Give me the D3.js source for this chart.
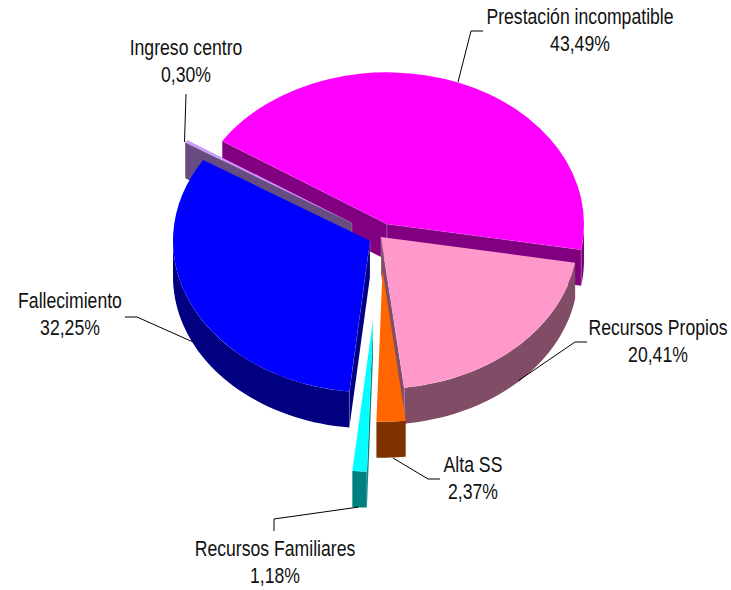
<!DOCTYPE html>
<html>
<head>
<meta charset="utf-8">
<script src="https://cdn.jsdelivr.net/npm/d3@7"></script>
<style>
  html, body { margin: 0; padding: 0; background: #fff; }
  text { font-family: 'Liberation Sans', Arial, sans-serif; font-size: 21.5px; fill: #111; }
</style>
</head>
<body>
<div id="chart"></div>
<script>
// data, clockwise from the magenta slice
const categories = ['Prestación incompatible', 'Recursos Propios', 'Alta SS', 'Recursos Familiares', 'Fallecimiento', 'Ingreso centro']
const values = [43.49, 20.41, 2.37, 1.18, 32.25, 0.30]
const colors = ['#ff00ff', '#ff99cc', '#ff6600', '#00ffff', '#0000ff', '#cc99ff']
const wallColors = ['#800080', '#804c66', '#803300', '#008080', '#000080', '#664c80']

const width = 731
const height = 590

// fake 3d settings
const tilt = 0.77
const depth = 36
const radius = 197
const startAngle = -56.8 * Math.PI / 180

// each slice is pulled out on its own: this is where its apex ends up
const apexX = [387, 381, 382.5, 373, 370, 352]
const apexY = [224, 237, 270, 320, 240.7, 223]

// back to front
const drawOrder = [0, 5, 1, 2, 3, 4]

// label centre, first baseline
const labelX = [580, 658, 473, 275, 70, 186]
const labelY = [24, 335, 472, 556, 308, 55]
const lineGap = 27.5
const narrow = 0.82 // no arial narrow here, so squeeze the text

// leader lines
const leaders = [
  [[458, 82], [471, 31], [483, 31]],
  [[518, 381], [575, 342], [587, 342]],
  [[393, 458], [428, 479], [440, 479]],
  [[359, 507], [274, 519], [274, 531]],
  [[193, 342], [137, 317], [125, 317]],
  [[184.5, 142], [186, 94]]
]

const svg = d3
  .select('#chart')
  .append('svg')
  .attr('width', width)
  .attr('height', height)
  .style('display', 'block')

const pie = d3
  .pie()
  .sort(null)
  .startAngle(startAngle)
  .endAngle(startAngle + 2 * Math.PI)

const slices = pie(values)
const line = d3.line()
const arc = d3.arc().innerRadius(0).outerRadius(radius)

function project(i, angle, z = 0) {
  return [
    apexX[i] + radius * Math.sin(angle),
    apexY[i] - radius * tilt * Math.cos(angle) + z
  ]
}

// side of the slice that runs from apex to rim at this angle
function drawRadialFace(g, i, angle) {
  const apex = [apexX[i], apexY[i]]
  const apexLow = [apex[0], apex[1] + depth]
  const rim = project(i, angle)
  const rimLow = [rim[0], rim[1] + depth]

  g.append('path')
    .attr('d', line([apex, rim, rimLow, apexLow]) + 'Z')
    .attr('fill', wallColors[i])

  // pale seam along the folds
  g.append('path')
    .attr('d', line([apexLow, apex, rim, rimLow]))
    .attr('fill', 'none')
    .attr('stroke', '#fff')
    .attr('stroke-opacity', 0.3)
    .attr('stroke-width', 0.7)
}

// only the part of the rim that faces the viewer
function rimFace(i, a0, a1) {
  const from = Math.max(a0, Math.PI / 2)
  const to = Math.min(a1, 1.5 * Math.PI)
  if (from >= to) return null
  const steps = d3.range(0, 41).map(k => from + (to - from) * k / 40)
  const upper = steps.map(a => project(i, a))
  const lower = steps.map(a => project(i, a, depth)).reverse()
  return line(upper.concat(lower)) + 'Z'
}

drawOrder.forEach(i => {
  const s = slices[i]
  const g = svg.append('g').attr('class', 'slice')

  const rim = rimFace(i, s.startAngle, s.endAngle)
  if (rim) g.append('path').attr('d', rim).attr('fill', wallColors[i])

  // which radial sides can be seen
  if (Math.sin(s.startAngle) < 0) drawRadialFace(g, i, s.startAngle)
  if (Math.sin(s.endAngle) > 0) drawRadialFace(g, i, s.endAngle)

  g.append('path')
    .attr('transform', `translate(${apexX[i]},${apexY[i]}) scale(1,${tilt})`)
    .attr('d', arc(s))
    .attr('fill', colors[i])
})

// leaders
svg
  .selectAll('.leader')
  .data(leaders)
  .enter()
  .append('path')
  .attr('class', 'leader')
  .attr('d', d => line(d))
  .attr('fill', 'none')
  .attr('stroke', '#000')
  .attr('stroke-width', 1)

// labels
const labels = svg
  .selectAll('.label')
  .data(categories)
  .enter()
  .append('text')
  .attr('class', 'label')
  .attr('text-anchor', 'middle')
  .attr('transform', (d, i) => `translate(${labelX[i]},${labelY[i]}) scale(${narrow},1)`)

labels
  .append('tspan')
  .attr('x', 0)
  .attr('y', 0)
  .text(d => d)

labels
  .append('tspan')
  .attr('x', 0)
  .attr('y', lineGap)
  .text((d, i) => d3.format('.2f')(values[i]).replace('.', ',') + '%')
</script>
</body>
</html>
